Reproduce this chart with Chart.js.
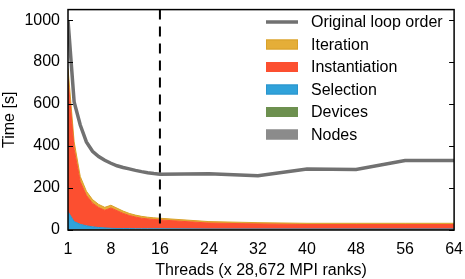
<!DOCTYPE html>
<html>
<head>
<meta charset="utf-8">
<script src="https://cdn.jsdelivr.net/npm/chart.js@4"></script>
<style>
  body { margin: 0; background: #fff; }
  #wrap { width: 465px; height: 279px; }
</style>
</head>
<body>
<div id="wrap"><canvas id="timeChart" width="465" height="279"></canvas></div>
<script>
// Thread counts on the x axis
const threads = [1, 2, 3, 4, 5, 6, 7, 8, 9, 10, 11, 12, 13, 14, 15, 16, 24, 32, 40, 48, 56, 64];

// Original loop order (total time, line)
const originalLoop = [1000, 610, 500, 420, 375, 350, 332, 318, 306, 298, 291, 284, 278, 273, 269, 266, 268, 258, 291, 288, 331, 331];

// Stacked components (bottom to top)
const nodes = [1, 1, 1, 1, 1, 1, 1, 1, 1, 1, 1, 1, 1, 1, 1, 1, 1, 1, 1, 1, 1, 1];
const devices = [1, 1, 1, 1, 1, 1, 1, 1, 1, 1, 1, 1, 1, 1, 1, 1, 1, 1, 1, 1, 1, 1];
const selection = [85, 38, 25, 18, 13, 10, 8, 6, 5, 5, 5, 4, 4, 4, 4, 4, 3, 3, 3, 3, 3, 3];
const instantiation = [633, 345, 203, 145, 113, 95, 84, 97, 85, 72, 62, 56, 50, 47, 44, 42, 28, 24, 21, 21, 21, 21];
const iteration = [50, 35, 25, 20, 17, 15, 14, 13, 12, 11, 10, 9, 9, 8, 8, 8, 7, 6, 6, 6, 6, 6];

const xTicks = [1, 8, 16, 24, 32, 40, 48, 56, 64];
const yTicks = [0, 200, 400, 600, 800, 1000];
const markerThreads = 16;

const legendOrder = ['Original loop order', 'Iteration', 'Instantiation', 'Selection', 'Devices', 'Nodes'];

const FONT = '"Liberation Sans", Arial, sans-serif';

function pts(values) {
    return threads.map(function(t, i) { return { x: t, y: values[i] }; });
}

function area(label, values, color, edge, fill) {
    return {
        label: label,
        data: pts(values),
        stack: 'parts',
        backgroundColor: color,
        borderColor: edge,
        borderWidth: 1,
        pointRadius: 0,
        tension: 0,
        fill: fill
    };
}

// Frame, inward ticks, dashed marker and legend, drawn matplotlib style
const decorations = {
    id: 'decorations',
    afterDatasetsDraw: function(chart) {
        const ctx = chart.ctx;
        const a = chart.chartArea;
        const x = chart.scales.x;
        const y = chart.scales.y;
        ctx.save();

        // dashed vertical line
        const xm = x.getPixelForValue(markerThreads);
        ctx.strokeStyle = '#000';
        ctx.lineWidth = 2;
        ctx.setLineDash([10, 7]);
        ctx.beginPath();
        ctx.moveTo(xm, a.top);
        ctx.lineTo(xm, a.bottom);
        ctx.stroke();
        ctx.setLineDash([]);

        // y ticks pointing inward on both sides
        ctx.lineWidth = 1;
        yTicks.forEach(function(v) {
            const py = Math.round(y.getPixelForValue(v)) + 0.5;
            ctx.beginPath();
            ctx.moveTo(a.left, py);
            ctx.lineTo(a.left + 5, py);
            ctx.moveTo(a.right, py);
            ctx.lineTo(a.right - 5, py);
            ctx.stroke();
        });

        // frame
        ctx.lineWidth = 1.5;
        ctx.strokeRect(a.left, a.top, a.right - a.left, a.bottom - a.top);

        // legend
        const byLabel = {};
        chart.data.datasets.forEach(function(d) { byLabel[d.label] = d; });
        ctx.font = '16px ' + FONT;
        ctx.textBaseline = 'middle';
        ctx.textAlign = 'left';
        legendOrder.forEach(function(label, i) {
            const d = byLabel[label];
            const cy = 22 + i * 22.5;
            if (d.fill === false) {
                ctx.strokeStyle = d.borderColor;
                ctx.lineWidth = 3.5;
                ctx.beginPath();
                ctx.moveTo(266, cy);
                ctx.lineTo(298, cy);
                ctx.stroke();
            } else {
                ctx.fillStyle = d.backgroundColor;
                ctx.fillRect(266, cy - 5, 32, 10);
                ctx.strokeStyle = d.borderColor;
                ctx.lineWidth = 1;
                ctx.strokeRect(266.5, cy - 4.5, 31, 9);
            }
            ctx.fillStyle = '#000';
            ctx.fillText(label, 311, cy + 1);
        });
        ctx.restore();
    }
};

document.addEventListener('DOMContentLoaded', function() {
    const ctx = document.getElementById('timeChart').getContext('2d');

    new Chart(ctx, {
        type: 'line',
        data: {
            datasets: [
                {
                    label: 'Original loop order',
                    data: pts(originalLoop),
                    stack: 'orig',
                    borderColor: '#717171',
                    backgroundColor: '#717171',
                    borderWidth: 3.5,
                    pointRadius: 0,
                    tension: 0,
                    fill: false
                },
                area('Nodes', nodes, '#8b8b8b', '#8b8b8b', 'origin'),
                area('Devices', devices, '#6d904f', '#6d904f', '-1'),
                area('Selection', selection, '#30a2da', '#2a94cc', '-1'),
                area('Instantiation', instantiation, '#fc4f30', '#fc4f30', '-1'),
                area('Iteration', iteration, '#e5ae38', '#d9a12a', '-1')
            ]
        },
        options: {
            responsive: false,
            animation: false,
            layout: {
                padding: { top: 1, right: 10, left: 0, bottom: 0 }
            },
            plugins: {
                legend: { display: false },
                tooltip: { enabled: false }
            },
            scales: {
                x: {
                    type: 'linear',
                    min: 1,
                    max: 64,
                    grid: { display: false },
                    border: { display: false },
                    afterBuildTicks: function(scale) {
                        scale.ticks = xTicks.map(function(v) { return { value: v }; });
                    },
                    afterFit: function(scale) { scale.height = 49; },
                    ticks: {
                        color: '#000',
                        padding: 2,
                        maxRotation: 0,
                        callback: function(value) { return String(value); },
                        font: { family: FONT, size: 16 }
                    },
                    title: {
                        display: true,
                        text: 'Threads (x 28,672 MPI ranks)',
                        color: '#000',
                        padding: { top: 0, bottom: -1 },
                        font: { family: FONT, size: 16 }
                    }
                },
                y: {
                    stacked: true,
                    min: 0,
                    max: 1050,
                    grid: { display: false },
                    border: { display: false },
                    afterBuildTicks: function(scale) {
                        scale.ticks = yTicks.map(function(v) { return { value: v }; });
                    },
                    afterFit: function(scale) { scale.width = 68; },
                    ticks: {
                        color: '#000',
                        padding: 0,
                        callback: function(value) { return String(value); },
                        font: { family: FONT, size: 16 }
                    },
                    title: {
                        display: true,
                        text: 'Time [s]',
                        color: '#000',
                        padding: { top: 0, bottom: 0 },
                        font: { family: FONT, size: 16 }
                    }
                }
            }
        },
        plugins: [decorations]
    });
});
</script>
</body>
</html>
